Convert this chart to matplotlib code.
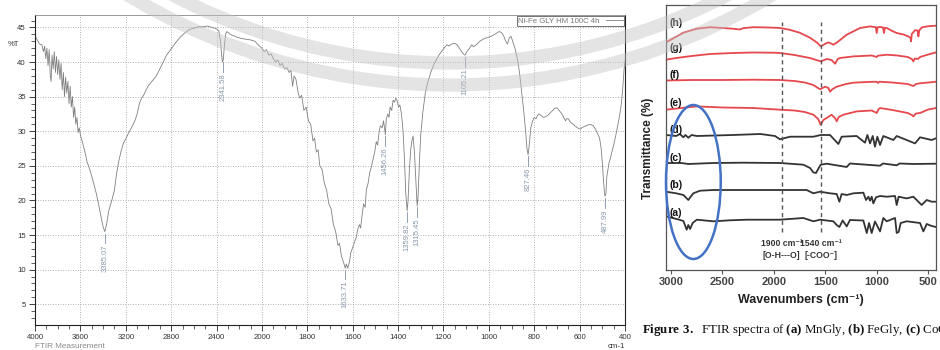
import numpy as np
import matplotlib
matplotlib.use("Agg")
import matplotlib.pyplot as plt
from matplotlib.patches import Ellipse, Circle

plt.rcParams["mathtext.fontset"] = "custom"
plt.rcParams["mathtext.rm"] = "Liberation Serif"
plt.rcParams["mathtext.bf"] = "Liberation Serif:bold"

# ---------------- Left chart: FTIR spectrum ----------------
ir_wavenumber = [4000, 3980, 3960, 3940, 3925, 3915, 3905, 3895, 3885, 3875, 3865, 3858, 3850, 3840,
                 3830, 3820, 3810, 3800, 3790, 3780, 3770, 3760, 3750, 3740, 3730, 3720, 3710, 3700,
                 3690, 3680, 3670, 3660, 3650, 3640, 3630, 3620, 3610, 3600, 3580, 3560, 3540, 3520,
                 3500, 3480, 3460, 3440, 3420, 3400, 3385, 3370, 3350, 3320, 3300, 3280, 3260, 3240,
                 3220, 3200, 3180, 3150, 3120, 3100, 3080, 3060, 3040, 3020, 3000, 2980, 2960, 2930,
                 2900, 2870, 2840, 2800, 2760, 2720, 2680, 2640, 2600, 2560, 2520, 2480, 2440, 2400,
                 2380, 2365, 2355, 2348, 2341, 2330, 2320, 2310, 2300, 2280, 2250, 2220, 2180, 2140,
                 2100, 2060, 2040, 2020, 2000, 1990, 1980, 1970, 1960, 1950, 1940, 1930, 1920, 1910,
                 1900, 1890, 1880, 1872, 1865, 1858, 1850, 1840, 1833, 1825, 1815, 1805, 1795, 1785,
                 1775, 1768, 1760, 1752, 1745, 1735, 1725, 1715, 1705, 1695, 1685, 1675, 1665, 1658,
                 1650, 1645, 1640, 1636, 1633, 1628, 1622, 1615, 1608, 1600, 1592, 1585, 1578, 1570,
                 1565, 1558, 1552, 1545, 1540, 1532, 1525, 1518, 1510, 1503, 1496, 1490, 1484, 1478,
                 1470, 1464, 1458, 1456, 1452, 1445, 1440, 1435, 1428, 1422, 1415, 1410, 1404, 1398,
                 1392, 1385, 1378, 1372, 1366, 1360, 1356, 1350, 1344, 1338, 1334, 1328, 1322, 1316,
                 1312, 1306, 1300, 1290, 1280, 1270, 1255, 1240, 1220, 1200, 1185, 1175, 1165, 1150,
                 1140, 1130, 1120, 1110, 1105, 1095, 1085, 1075, 1068, 1055, 1040, 1020, 1000, 985,
                 970, 955, 945, 935, 925, 918, 910, 902, 895, 885, 875, 865, 855, 845, 838, 832, 827,
                 822, 815, 808, 800, 792, 785, 778, 770, 760, 750, 740, 725, 710, 700, 690, 680, 670,
                 662, 658, 650, 640, 625, 610, 598, 585, 570, 555, 540, 530, 520, 512, 505, 500, 495,
                 490, 488, 484, 480, 475, 470, 465, 458, 450, 440, 432, 425, 418, 413, 408, 404, 400]
ir_transmittance = [43.8, 43.2, 42.6, 42.5, 41.5, 42.3, 40.5, 42.0, 39.5, 41.8, 38.0, 37.2, 41.0, 39.0,
                    41.5, 38.5, 40.8, 38.2, 40.3, 37.5, 39.8, 36.0, 38.5, 35.0, 37.8, 35.5, 37.2, 34.0,
                    36.5, 33.5, 35.0, 32.0, 33.5, 31.0, 32.0, 29.8, 30.5, 29.5, 28.3, 27.0, 25.5, 24.6,
                    23.5, 22.3, 21.0, 19.5, 17.8, 16.2, 15.5, 16.5, 18.5, 20.2, 21.5, 24.0, 25.8, 27.2,
                    28.3, 28.9, 29.6, 30.5, 31.5, 32.5, 34.0, 34.8, 35.3, 36.0, 36.6, 37.0, 37.4, 38.0,
                    39.0, 40.0, 41.0, 41.9, 42.8, 43.6, 44.2, 44.7, 44.9, 45.1, 45.1, 45.2, 45.0, 44.8,
                    44.5, 43.0, 41.0, 40.0, 40.3, 42.5, 44.0, 44.4, 44.3, 44.0, 43.8, 43.6, 43.4, 43.3,
                    43.2, 43.0, 42.6, 42.3, 42.0, 41.5, 41.8, 41.0, 41.2, 40.5, 40.0, 40.3, 39.5, 39.8,
                    39.0, 39.2, 38.5, 38.8, 36.5, 38.0, 37.5, 35.5, 34.8, 35.2, 33.0, 33.5, 31.5, 31.0,
                    28.6, 29.0, 27.0, 27.3, 25.0, 24.5, 22.5, 21.5, 19.5, 18.8, 16.5, 15.5, 13.5, 13.8,
                    12.0, 11.5, 11.0, 10.6, 10.2, 10.8, 10.2, 11.0, 12.5, 13.2, 14.0, 14.6, 15.8, 16.5,
                    16.0, 18.0, 19.5, 19.0, 21.5, 22.5, 24.0, 24.8, 26.0, 27.0, 28.5, 28.0, 29.8, 30.8,
                    30.5, 31.5, 30.0, 29.5, 31.8, 32.5, 32.0, 33.5, 33.0, 34.5, 34.2, 34.8, 34.4, 33.5,
                    33.8, 32.5, 30.0, 26.0, 21.0, 18.5, 20.0, 24.5, 27.5, 28.8, 29.3, 27.0, 23.0, 19.2,
                    20.5, 25.5, 29.5, 33.0, 35.5, 37.0, 38.6, 39.8, 41.0, 41.9, 42.5, 42.3, 42.6, 42.7,
                    42.5, 42.0, 41.5, 41.1, 41.0, 41.6, 42.0, 42.5, 42.2, 42.5, 43.0, 43.4, 43.6, 43.8,
                    44.1, 44.4, 44.3, 43.8, 43.0, 42.6, 43.5, 43.7, 43.0, 42.0, 40.6, 38.5, 35.5, 32.5,
                    30.0, 27.5, 26.6, 28.0, 30.5, 31.4, 32.0, 31.8, 32.3, 32.5, 32.3, 32.0, 32.1, 32.3,
                    32.8, 33.3, 33.4, 33.0, 32.6, 32.0, 31.5, 31.8, 31.8, 31.3, 30.9, 30.5, 30.3, 30.6,
                    30.8, 31.0, 30.8, 30.3, 29.6, 29.0, 27.5, 25.5, 23.0, 21.0, 20.6, 21.0, 23.5, 24.5,
                    25.5, 26.0, 27.0, 28.0, 29.5, 30.8, 32.0, 33.5, 35.0, 37.0, 39.0, 40.2]
peak_wavenumbers = [3385.07, 2341.58, 1633.71, 1456.26, 1359.82, 1315.45, 1105.21, 827.46, 487.99]
ir_series_name = "Ni-Fe GLY HM 100C 4h"
ir_x_major = [4000, 3600, 3200, 2800, 2400, 2000, 1800, 1600, 1400, 1200, 1000, 800, 600, 400]
ir_y_major = [5, 10, 15, 20, 25, 30, 35, 40, 45]

# ---------------- Right chart: stacked FTIR spectra ----------------
spec_labels = ["(a)", "(b)", "(c)", "(d)", "(e)", "(f)", "(g)", "(h)"]
spec_offsets = [52, 80, 107, 135, 162, 190, 217, 242]
spec_colors = ["#333333", "#333333", "#333333", "#333333", "#e5484d", "#e5484d", "#e5484d", "#e5484d"]

spec_a_w = [3049, 2984, 2920, 2880, 2848, 2832, 2815, 2790, 2750, 2589, 2427, 2265, 1973, 1941, 1714,
            1617, 1552, 1423, 1390, 1364, 1332, 1293, 1261, 1131, 1098, 1076, 1050, 1018, 969, 937,
            904, 823, 807, 788, 768, 710, 580, 548, 515, 467, 425]
spec_a_t = [1.7, 0, -1.7, -3, -11.7, -7, -11, -5, -1.7, -3.3, -2.3, -1.7, -1.7, -1.7, 0,
            -3.3, -1.7, -3.3, -7, -9, -2.5, -8.4, -2, -2.5, -15, -5, -15, -3.5, -13.4, 0,
            -3.3, 0, -15, -14, -5, -3.3, -5, -13.4, -6, -8, -9]
spec_b_w = [3049, 2950, 2880, 2832, 2809, 2783, 2718, 2589, 1973, 1682, 1617, 1552, 1455, 1390, 1364,
            1342, 1293, 1228, 1131, 1105, 1082, 1066, 1050, 1034, 1008, 969, 904, 823, 807, 788, 710,
            645, 564, 515, 467, 425]
spec_b_t = [-1.7, -3.3, -5, -10, -6.7, -3.3, -0.7, 0, 0, 0, -3.3, -1.7, -3.3, -4, -11.7,
            -4, -5, -3.3, -2.7, -10, -6.7, -10.7, -6.7, -13.4, -7.3, -6, -6.7, -6, -15, -6.7, -8.4,
            -6.7, -15, -10, -11.7, -11.7]
spec_c_w = [3049, 2900, 2832, 2589, 2300, 1941, 1714, 1649, 1617, 1591, 1568, 1546, 1487, 1293, 1261,
            969, 940, 807, 780, 645, 425]
spec_c_t = [0, 0, -1, 0, 0.3, 0, -1.7, -5, -9.4, -10, -5.6, -1.7, -0.7, -4, -0.5,
            -2.7, -0.5, -2.3, -0.5, -1.0, -0.7]
spec_d_w = [3049, 2950, 2915, 2880, 2860, 2832, 2800, 2750, 2400, 2131, 1990, 1941, 1844, 1617, 1546,
            1455, 1374, 1342, 1196, 1115, 1092, 1066, 1040, 1018, 995, 969, 937, 839, 807, 629,
            580, 467, 425]
spec_d_t = [0, -1, 1, -2.3, 0, -2.7, 0, -1, 0, 1, -1, -4.3, -1.7, -1.7, 0,
            0, -9, -1.7, -1, -7.7, 0, -8.4, -1, -11.7, -1.7, -10, -1, -5, -1, -8.4,
            -2.3, -5, -3.3]
spec_e_w = [3049, 2900, 2750, 2500, 2200, 1941, 1800, 1700, 1617, 1570, 1546, 1520, 1487, 1439, 1400,
            1390, 1370, 1325, 1196, 1050, 1001, 985, 969, 850, 700, 660, 645, 620, 580, 500, 425]
spec_e_t = [-1.7, 0, 1.6, 0.5, 0, -1.7, -2.5, -4, -6.7, -11, -16.7, -12, -10, -6.7, -11,
            -13.4, -9, -6.7, -3.4, -2.5, -5, -1.5, 0, -2, -5, -7, -8.4, -5.5, -5, -1.5, 0]
spec_f_w = [3049, 2800, 2500, 2200, 1941, 1800, 1700, 1617, 1552, 1504, 1470, 1455, 1430, 1390, 1300,
            1228, 1100, 1001, 990, 975, 850, 700, 645, 620, 580, 500, 425]
spec_f_t = [-0.5, 0, 0, 0.3, 0, -1, -2.5, -5, -9.3, -6.7, -8, -11.7, -9, -6.7, -4,
            -2.7, -2, -1.7, -3, -1.7, -2.5, -4, -6, -4, -3.3, -2.5, -1.7]
spec_g_w = [3049, 2950, 2800, 2621, 2400, 2200, 2000, 1941, 1800, 1650, 1546, 1487, 1440, 1406, 1380,
            1358, 1228, 1050, 1001, 990, 904, 800, 700, 660, 645, 630, 600, 580, 500, 425]
spec_g_t = [-6.7, -5, -3, -1, 0, 0.5, 0.3, 0, -2, -5, -8.4, -6, -7, -10.7, -6,
            -5, -3.4, -2.5, -4, -2.7, -1.7, -2.5, -4, -6, -8.4, -5.5, -6, -4, -1.5, 0.6]
spec_h_w = [3049, 2950, 2880, 2750, 2620, 2500, 2400, 2330, 2300, 2200, 2100, 2000, 1941, 1850, 1750,
            1650, 1580, 1546, 1500, 1471, 1440, 1423, 1390, 1293, 1163, 1066, 1010, 1001, 992, 969,
            940, 930, 922, 904, 850, 807, 740, 694, 672, 668, 660, 629, 604, 596, 588, 564, 500, 425]
spec_h_t = [-14.4, -8.7, -4.7, -0.7, 0.8, 0, -0.7, -1.5, -0.2, 0.8, 0.6, 0.3, 0, -1.7, -4.7,
            -9.7, -14.7, -18.4, -15.7, -14.4, -15.7, -16.7, -14.7, -6.7, 0, 1.6, 0.8, -5, 0.8, 1,
            0.5, -5, 0.3, 0, -3, -5, -6.5, -8.4, -10, -13.4, -6, -2.2, -2.5, -8.4, -2.5, 0.5, 1.8, 2.3]
spec_w = [spec_a_w, spec_b_w, spec_c_w, spec_d_w, spec_e_w, spec_f_w, spec_g_w, spec_h_w]
spec_t = [spec_a_t, spec_b_t, spec_c_t, spec_d_t, spec_e_t, spec_f_t, spec_g_t, spec_h_t]
ref_lines = [1924, 1545]
ref_line_labels = ["1900 cm\u207b\u00b9", "1540 cm\u207b\u00b9"]
ref_line_groups = ["[O-H---O]", "[-COO\u207b]"]
right_x_ticks = [3000, 2500, 2000, 1500, 1000, 500]

# ---------------- Figure ----------------
W, H = 940, 350
fig = plt.figure(figsize=(W / 100, H / 100), dpi=100)
fig.patch.set_facecolor("white")

SANS = ["Liberation Sans", "DejaVu Sans"]

# left axes
ax = fig.add_axes([35 / W, 25 / H, 590 / W, 310 / H])


def fwd(w):
    w = np.asarray(w, dtype=float)
    return np.where(w > 2000, 2000 + (w - 2000) / 2.0, w)


def inv(p):
    p = np.asarray(p, dtype=float)
    return np.where(p > 2000, 2000 + (p - 2000) * 2.0, p)


ax.set_xscale("function", functions=(fwd, inv))
ax.set_xlim(4000, 400)
ax.set_ylim(2, 46.8)
line, = ax.plot(ir_wavenumber, ir_transmittance, color="#808080", lw=0.6, label=ir_series_name)

minor_x = list(range(3900, 2000, -100)) + list(range(1950, 400, -50))
ax.set_xticks(ir_x_major)
ax.set_xticks([m for m in minor_x if m not in ir_x_major], minor=True)
ax.set_yticks(ir_y_major)
ax.set_yticks([v for v in range(3, 47) if v % 5 != 0], minor=True)
ax.grid(True, which="major", color="#9a9a9a", lw=0.6, linestyle=(0, (1, 2)))
ax.tick_params(axis="both", which="major", labelsize=5.6, labelcolor="#333333", color="#222222",
               length=4.5, width=0.6, pad=2)
ax.tick_params(axis="both", which="minor", color="#222222", length=3, width=0.5)
for lab in ax.get_xticklabels() + ax.get_yticklabels():
    lab.set_family(SANS)
for s in ["left", "bottom", "right"]:
    ax.spines[s].set_color("#222222")
    ax.spines[s].set_linewidth(0.8)
ax.spines["top"].set_color("#888888")
ax.spines["top"].set_linewidth(0.6)

# peak labels
wr = np.array(ir_wavenumber[::-1], dtype=float)
tr = np.array(ir_transmittance[::-1], dtype=float)
for pw in peak_wavenumbers:
    pt = float(np.interp(pw, wr, tr))
    ax.plot([pw, pw], [pt - 0.3, pt - 1.7], color="#7f8fa3", lw=0.6)
    ax.text(pw, pt - 1.9, f"{pw:.2f}", rotation=90, ha="center", va="top", fontsize=5.5,
            color="#8a98aa", family=SANS)

leg = ax.legend(handles=[line], loc="upper right", markerfirst=False, frameon=True,
                fancybox=False, borderaxespad=0.15, borderpad=0.15, handlelength=2.2,
                handletextpad=0.8, prop={"family": SANS, "size": 5.6})
leg.get_frame().set_edgecolor("#333333")
leg.get_frame().set_linewidth(0.6)
for t in leg.get_texts():
    t.set_color("#777777")

fig.text(8 / W, 1 - 44 / H, "%T", fontsize=5.5, color="#333333", family=SANS, va="center")
fig.text(35 / W, 1 - 346.5 / H, "FTIR Measurement", fontsize=5.9, color="#8a8a8a", family=SANS,
         va="center")
fig.text(616 / W, 1 - 346.5 / H, "cm-1", fontsize=5.6, color="#333333", family=SANS, va="center",
         ha="center")

# right axes
ax2 = fig.add_axes([666 / W, 80 / H, 270 / W, 265 / H])
ax2.set_xlim(3049, 425)
ax2.set_ylim(0, 265)
for w, t, off, col in zip(spec_w, spec_t, spec_offsets, spec_colors):
    ax2.plot(w, np.asarray(t) + off, color=col, lw=1.3, solid_joinstyle="round")
for lab, off in zip(spec_labels, spec_offsets):
    ax2.text(3015, off + 5, lab, fontsize=7.5, fontweight="bold", ha="left", va="center",
             color="#111111", family=SANS)
for xl in ref_lines:
    ax2.plot([xl, xl], [38, 248], color="#555555", lw=1.0, linestyle=(0, (3, 2.5)))
for xl, l1, l2 in zip(ref_lines, ref_line_labels, ref_line_groups):
    ax2.text(xl, 27, l1, fontsize=6.2, fontweight="bold", ha="center", va="center",
             color="#333333", family=SANS)
    ax2.text(xl, 15, l2, fontsize=6.2, fontweight="bold", ha="center", va="center",
             color="#333333", family=SANS)
ax2.add_patch(Ellipse((2783, 88), 532, 154, fill=False, edgecolor="#4472c4", lw=1.8,
                      clip_on=False, zorder=5))
ax2.set_xticks(right_x_ticks)
ax2.set_yticks([])
ax2.tick_params(axis="x", length=3, width=0.8, color="#555555", labelsize=8, labelcolor="#444444",
                pad=2)
for lab in ax2.get_xticklabels():
    lab.set_family(SANS)
    lab.set_fontweight("bold")
for s in ax2.spines.values():
    s.set_color("#555555")
    s.set_linewidth(0.9)
ax2.set_xlabel("Wavenumbers (cm\u207b\u00b9)", fontsize=9, fontweight="bold", family=SANS,
               color="#222222")
ax2.xaxis.set_label_coords(0.5, -(300 - 270) / 265, transform=ax2.transAxes)
ax2.xaxis.label.set_va("center")
ax2.set_ylabel("Transmittance (%)", fontsize=8.5, fontweight="bold", family=SANS, color="#222222")
ax2.yaxis.set_label_coords(-(666 - 648) / 270, (270 - 148) / 265)
ax2.yaxis.label.set_va("center")

fig.text(642 / W, 1 - 330 / H,
         r"$\mathbf{Figure\ 3.}$  FTIR spectra of $\mathbf{(a)}$ MnGly, $\mathbf{(b)}$ FeGly, "
         r"$\mathbf{(c)}$ CoGly",
         fontsize=9.3, family="Liberation Serif", color="#111111", va="center")

# watermark
wm = fig.add_axes([0, 0, 1, 1], zorder=10)
wm.set_xlim(0, W)
wm.set_ylim(H, 0)
wm.axis("off")
wm.patch.set_alpha(0)
for r in [600, 622]:
    wm.add_patch(Circle((450, -537), r, fill=False, edgecolor="#c4c4c4", lw=9.5, alpha=0.45))

fig.savefig("out.png", dpi=100)
